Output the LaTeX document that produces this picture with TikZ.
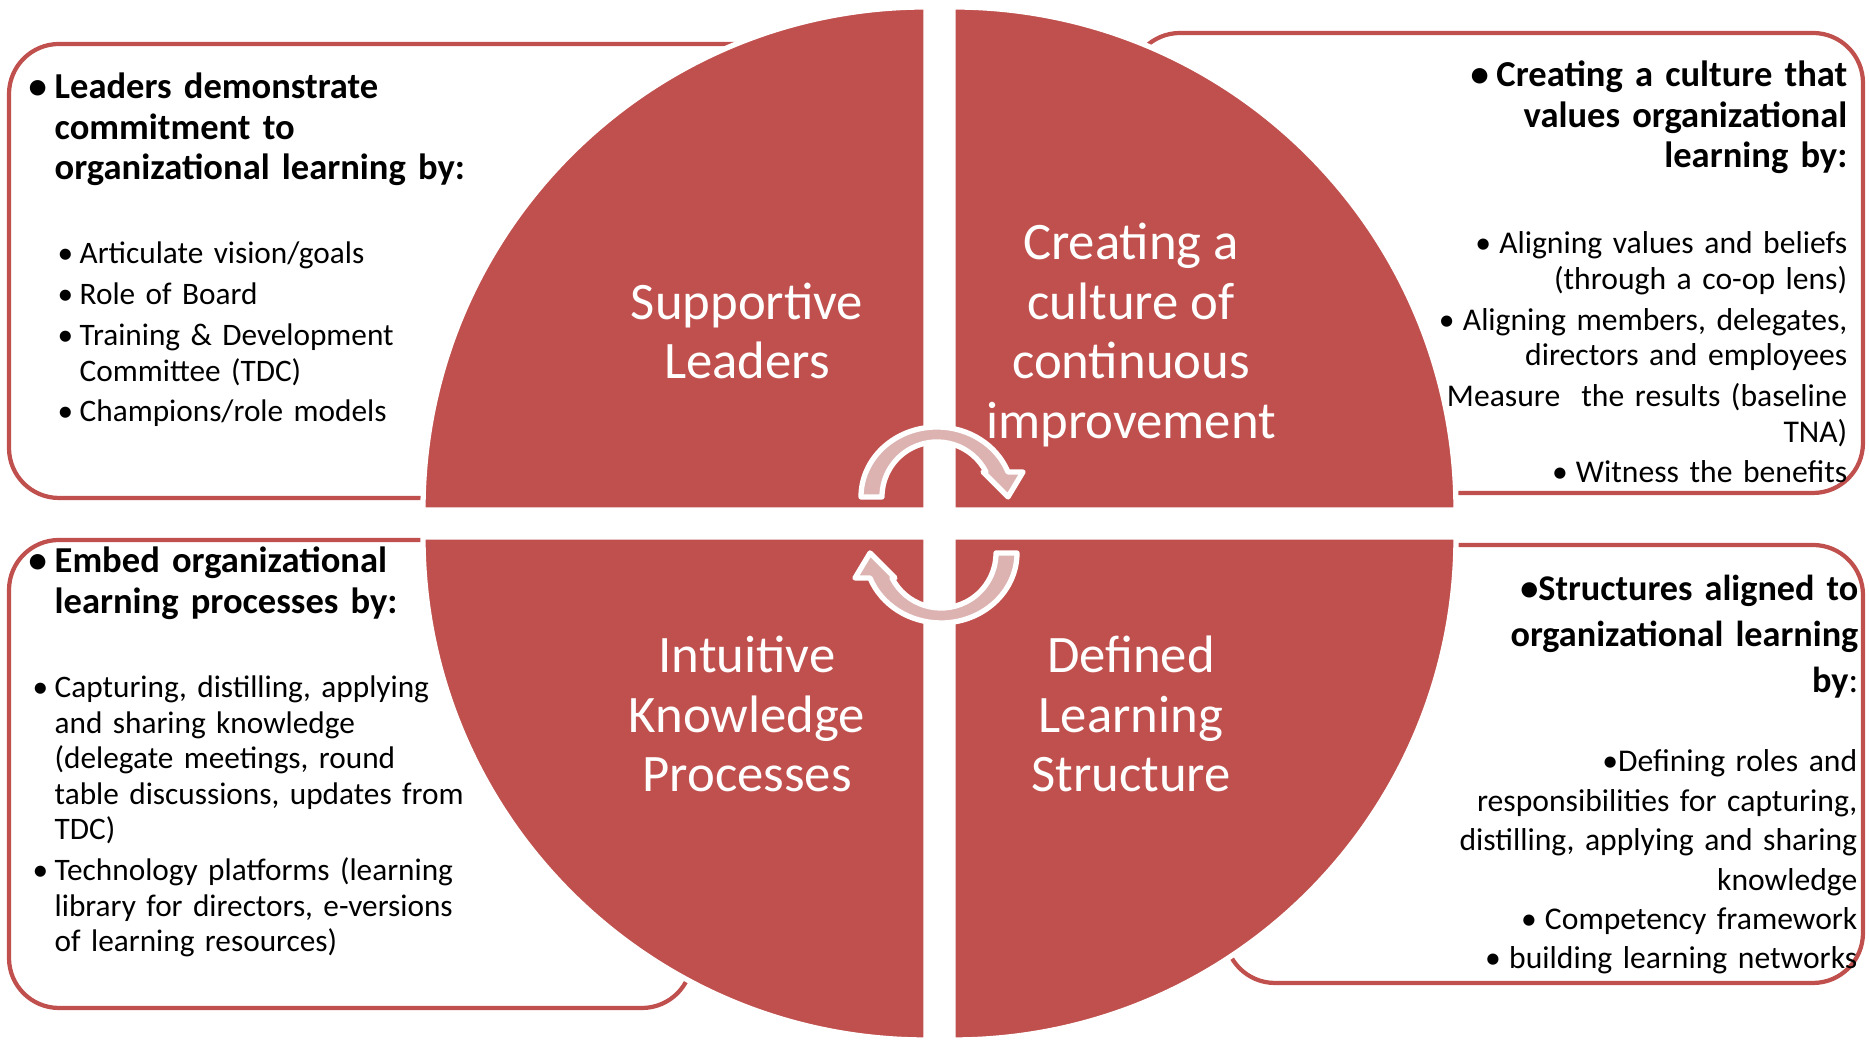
\documentclass[tikz,border=0pt]{standalone}
\usepackage{fontspec}
\setmainfont{Carlito}
\usetikzlibrary{positioning}

\definecolor{quadred}{HTML}{C0504D}
\definecolor{arrowpink}{HTML}{DDB3B2}

\newcommand{\bulletbox}[1]{\makebox[#1][l]{\kern-0.04cm\textbullet}}
\newcommand{\hangspace}[1]{\hspace*{#1}}

\tikzset{
  quadrant/.style={fill=quadred, draw=white, line width=1.5pt},
  textbox/.style={draw=quadred, fill=white, line width=1.2pt, rounded corners=0.5cm},
  cyclearrow/.style={fill=arrowpink, draw=white, line width=1.5pt, line join=round},
  quadlabel/.style={text=white, align=center, inner sep=0pt,
    font=\fontsize{15}{17}\selectfont},
  headleft/.style={text width=6.5cm, align=left, inner sep=0pt,
    font=\fontsize{10.4}{11.5}\selectfont\bfseries},
  itemleft/.style={text width=6.5cm, align=left, inner sep=0pt,
    font=\fontsize{8.9}{10.1}\selectfont},
  headright/.style={text width=7cm, align=right, inner sep=0pt,
    font=\fontsize{10.4}{11.5}\selectfont\bfseries},
  itemright/.style={text width=7cm, align=right, inner sep=0pt,
    font=\fontsize{9}{10.1}\selectfont}
}

\begin{document}
\begin{tikzpicture}
    \useasboundingbox (0,0) rectangle (18.69,10.43);

    % Text boxes behind the circle
    \draw[textbox] (0.09,5.45) rectangle (7.9,9.99);
    \draw[textbox] (11.3,5.50) rectangle (18.63,10.10);
    \draw[textbox] (0.09,0.35) rectangle (6.92,5.03);
    \draw[textbox] (12.25,0.60) rectangle (18.63,4.98);

    % Four quadrants of the circle
    \draw[quadrant] (9.26,5.33) -- ++(-5.03,0) arc[start angle=180, end angle=90, radius=5.03] -- cycle;
    \draw[quadrant] (9.53,5.33) -- ++(0,5.03) arc[start angle=90, end angle=0, radius=5.03] -- cycle;
    \draw[quadrant] (9.26,5.06) -- ++(0,-5.03) arc[start angle=270, end angle=180, radius=5.03] -- cycle;
    \draw[quadrant] (9.53,5.06) -- ++(5.03,0) arc[start angle=0, end angle=-90, radius=5.03] -- cycle;

    % Cycle arrows in the middle
    \draw[cyclearrow, shift={(9.37,5.46)}] (-0.76,0)
        arc[start angle=180, end angle=20.9, x radius=0.76, y radius=0.70]
        -- (0.86,0.25) -- (0.71,0) -- (0.46,0.25) -- (0.49,0.25)
        arc[start angle=27, end angle=180, radius=0.55] -- cycle;
    \draw[cyclearrow, shift={(9.41,4.90)}, rotate=180] (-0.76,0)
        arc[start angle=180, end angle=20.9, x radius=0.76, y radius=0.70]
        -- (0.86,0.25) -- (0.71,0) -- (0.46,0.25) -- (0.49,0.25)
        arc[start angle=27, end angle=180, radius=0.55] -- cycle;

    % Quadrant labels
    \node[quadlabel] (leaders) at (7.47,7.12) {Supportive\\Leaders};
    \node[quadlabel] (culture) at (11.31,7.08) {Creating a\\culture of\\continuous\\improvement};
    \node[quadlabel] (knowledge) at (7.47,3.29) {Intuitive\\Knowledge\\Processes};
    \node[quadlabel] (structure) at (11.31,3.29) {Defined\\Learning\\Structure};

    % Top left box
    \node[headleft, anchor=base west] (leadhead) at (0.32,9.44)
        {\bulletbox{0.22cm}Leaders demonstrate\\
         \hangspace{0.22cm}commitment to\\
         \hangspace{0.22cm}organizational learning by:};
    \node[itemleft, anchor=base west] (leaditems) at (0.61,7.79)
        {\bulletbox{0.18cm}Articulate vision/goals\\[1.5pt]
         \bulletbox{0.18cm}Role of Board\\[1.5pt]
         \bulletbox{0.18cm}Training \& Development\\
         \hangspace{0.18cm}Committee (TDC)\\[1.5pt]
         \bulletbox{0.18cm}Champions/role models};

    % Top right box
    \node[headright, anchor=base east] (culthead) at (18.48,9.56)
        {\bulletbox{0.22cm}Creating a culture that\\
         values organizational\\
         learning by:};
    \node[itemright, anchor=base east] (cultitems) at (18.48,7.89)
        {\bulletbox{0.2cm}Aligning values and beliefs\\
         (through a co-op lens)\\[1.5pt]
         \bulletbox{0.2cm}Aligning members, delegates,\\
         directors and employees\\[1.5pt]
         Measure\ \ the results (baseline\\
         TNA)\\[1.5pt]
         \bulletbox{0.2cm}Witness the benefits};

    % Bottom left box
    \node[headleft, anchor=base west] (knowhead) at (0.32,4.70)
        {\bulletbox{0.22cm}Embed organizational\\
         \hangspace{0.22cm}learning processes by:};
    \node[itemleft, anchor=base west] (knowitems) at (0.36,3.45)
        {\bulletbox{0.18cm}Capturing, distilling, applying\\
         \hangspace{0.18cm}and sharing knowledge\\
         \hangspace{0.18cm}(delegate meetings, round\\
         \hangspace{0.18cm}table discussions, updates from\\
         \hangspace{0.18cm}TDC)\\[1.5pt]
         \bulletbox{0.18cm}Technology platforms (learning\\
         \hangspace{0.18cm}library for directors, e-versions\\
         \hangspace{0.18cm}of learning resources)};

    % Bottom right box
    \node[headright, anchor=base east, font=\fontsize{10.3}{13}\selectfont\bfseries] (structhead) at (18.59,4.42)
        {\textbullet Structures aligned to\\
         organizational learning\\
         by{\mdseries :}};
    \node[itemright, anchor=base east, font=\fontsize{9}{11.2}\selectfont] (structitems) at (18.58,2.71)
        {\textbullet Defining roles and\\
         responsibilities for capturing,\\
         distilling, applying and sharing\\
         knowledge\\
         \bulletbox{0.2cm}Competency framework\\
         \bulletbox{0.2cm}building learning networks};
\end{tikzpicture}
\end{document}
